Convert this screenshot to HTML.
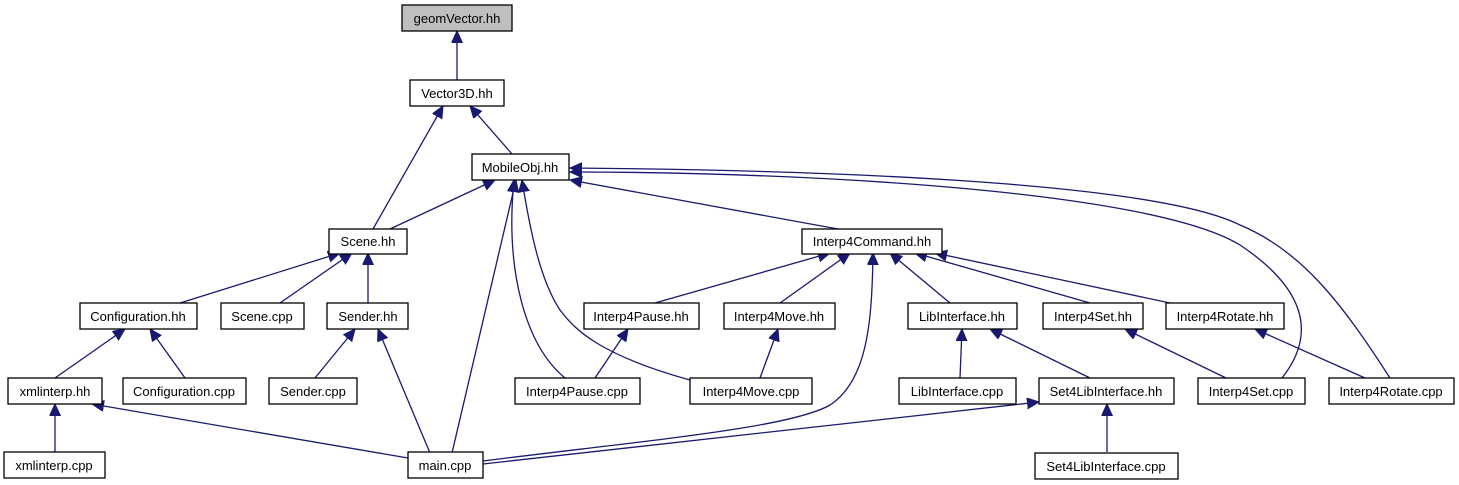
<!DOCTYPE html>
<html><head><meta charset="utf-8"><style>
html,body{margin:0;padding:0;background:#fff;}
svg{display:block;}
text{font-family:"Liberation Sans",Helvetica,sans-serif;font-size:13px;text-anchor:middle;fill:#000;}
rect{fill:#fff;stroke:#000;stroke-width:1.3;}
path,line{stroke:#191970;stroke-width:1.3;fill:none;}
</style></head><body>
<svg width="1459" height="485" viewBox="0 0 1459 485" xmlns="http://www.w3.org/2000/svg">
<defs><marker id="a" markerUnits="userSpaceOnUse" markerWidth="14" markerHeight="12" refX="12" refY="5.5" orient="auto"><path d="M0,0 L12,5.5 L0,11 Z" style="fill:#191970;stroke:#191970;stroke-width:1"/></marker></defs>
<g marker-end="url(#a)">
<path d="M457,80 L457,31"/>
<path d="M373,229 L443,106"/>
<path d="M512,154 L470,106"/>
<path d="M390,229 L495,180"/>
<path d="M838,229 L570,180"/>
<path d="M452,453 L516,180"/>
<path d="M565,378 C525,345 505,270 514,180"/>
<path d="M690,380 C600,355 575,330 560,310 C540,280 530,230 522,180"/>
<path d="M1282,378 C1320,330 1300,285 1240,245 C1150,190 800,172 570,172"/>
<path d="M1390,378 C1340,300 1300,250 1240,225 C1150,180 800,170 570,168"/>
<path d="M180,303 L340,253"/>
<path d="M280,303 L352,253"/>
<path d="M368,303 L368,253"/>
<path d="M655,303 L830,253"/>
<path d="M780,303 L850,253"/>
<path d="M950,303 L890,253"/>
<path d="M1090,303 L915,253"/>
<path d="M1170,303 L935,253"/>
<path d="M483,461 C650,440 790,428 830,405 C868,380 872,320 873,253"/>
<path d="M55,378 L125,329"/>
<path d="M185,378 L150,329"/>
<path d="M315,378 L355,329"/>
<path d="M430,453 L378,329"/>
<path d="M595,378 L628,329"/>
<path d="M760,378 L778,329"/>
<path d="M960,378 L962,329"/>
<path d="M1090,378 L990,329"/>
<path d="M1226,378 L1125,329"/>
<path d="M1365,378 L1255,329"/>
<path d="M55,452 L55,404"/>
<path d="M408,458 L92,404"/>
<path d="M483,464 L1039,402"/>
<path d="M1107,452 L1107,404"/>
</g>
<g>
<rect x="402" y="5" width="110" height="26" style="fill:#bfbfbf"/><text x="457" y="23">geomVector.hh</text>
<rect x="410" y="80" width="94" height="26"/><text x="457" y="98">Vector3D.hh</text>
<rect x="472" y="154" width="97" height="26"/><text x="520" y="172">MobileObj.hh</text>
<rect x="329" y="229" width="78" height="25"/><text x="368" y="246">Scene.hh</text>
<rect x="802" y="229" width="140" height="25"/><text x="872" y="246">Interp4Command.hh</text>
<rect x="80" y="303" width="117" height="26"/><text x="138" y="321">Configuration.hh</text>
<rect x="221" y="303" width="83" height="26"/><text x="262" y="321">Scene.cpp</text>
<rect x="327" y="303" width="81" height="26"/><text x="368" y="321">Sender.hh</text>
<rect x="584" y="303" width="115" height="26"/><text x="641" y="321">Interp4Pause.hh</text>
<rect x="724" y="303" width="111" height="26"/><text x="779" y="321">Interp4Move.hh</text>
<rect x="908" y="303" width="109" height="26"/><text x="962" y="321">LibInterface.hh</text>
<rect x="1043" y="303" width="100" height="26"/><text x="1093" y="321">Interp4Set.hh</text>
<rect x="1166" y="303" width="118" height="26"/><text x="1225" y="321">Interp4Rotate.hh</text>
<rect x="8" y="378" width="94" height="26"/><text x="55" y="396">xmlinterp.hh</text>
<rect x="123" y="378" width="123" height="26"/><text x="184" y="396">Configuration.cpp</text>
<rect x="269" y="378" width="88" height="26"/><text x="313" y="396">Sender.cpp</text>
<rect x="515" y="378" width="125" height="26"/><text x="577" y="396">Interp4Pause.cpp</text>
<rect x="690" y="378" width="122" height="26"/><text x="751" y="396">Interp4Move.cpp</text>
<rect x="899" y="378" width="117" height="26"/><text x="957" y="396">LibInterface.cpp</text>
<rect x="1039" y="378" width="135" height="26"/><text x="1106" y="396">Set4LibInterface.hh</text>
<rect x="1198" y="378" width="107" height="26"/><text x="1251" y="396">Interp4Set.cpp</text>
<rect x="1329" y="378" width="125" height="26"/><text x="1391" y="396">Interp4Rotate.cpp</text>
<rect x="4" y="452" width="101" height="26"/><text x="54" y="470">xmlinterp.cpp</text>
<rect x="408" y="452" width="75" height="26"/><text x="445" y="470">main.cpp</text>
<rect x="1035" y="453" width="143" height="26"/><text x="1106" y="471">Set4LibInterface.cpp</text>
</g>
</svg>
</body></html>
